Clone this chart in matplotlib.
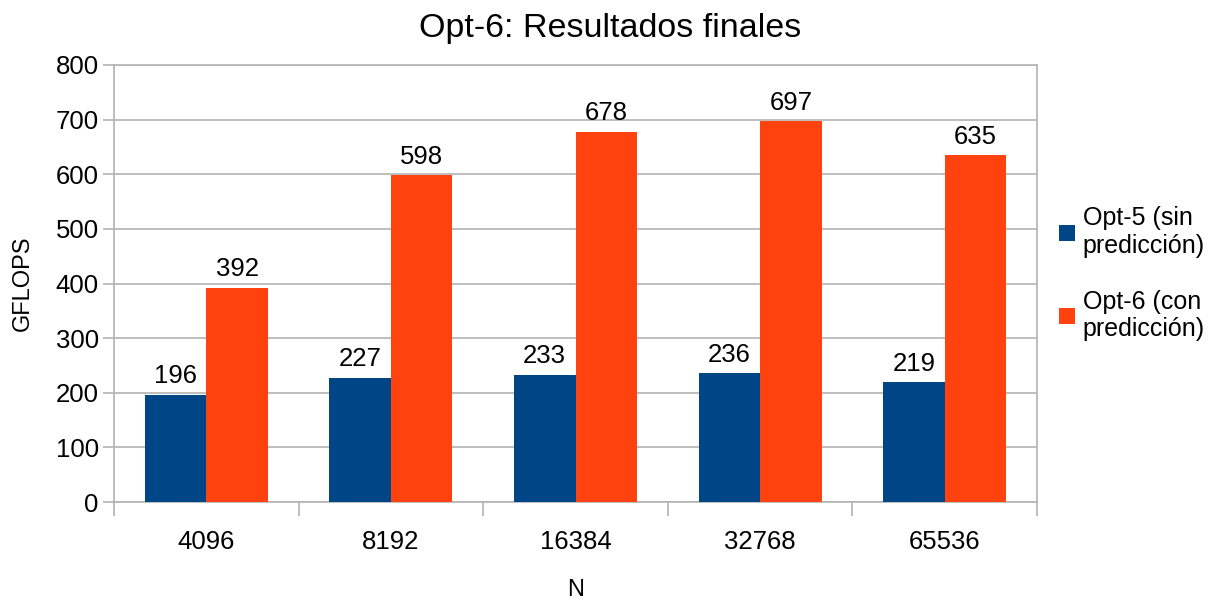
import matplotlib
matplotlib.use("Agg")
import matplotlib.pyplot as plt
import numpy as np

categories = ["4096", "8192", "16384", "32768", "65536"]
opt5 = [196, 227, 233, 236, 219]
opt6 = [392, 598, 678, 697, 635]
series_names = ["Opt-5 (sin\npredicción)", "Opt-6 (con\npredicción)"]
yticks = [0, 100, 200, 300, 400, 500, 600, 700, 800]

plt.rcParams['font.family'] = ['Liberation Sans', 'DejaVu Sans']

fig = plt.figure(figsize=(12.21, 6.02), dpi=100)
ax = fig.add_axes([114/1221, 1 - 502/602, (1037-114)/1221, (502-65)/602])

x = np.arange(len(categories))
w = 1/3
grid_c = "#b3b3b3"
b1 = ax.bar(x - w/2, opt5, w, color="#004586", label=series_names[0], zorder=3)
b2 = ax.bar(x + w/2, opt6, w, color="#ff420e", label=series_names[1], zorder=3)

for bars, vals in ((b1, opt5), (b2, opt6)):
    for r, v in zip(bars, vals):
        ax.text(r.get_x() + r.get_width()/2, v + 12, str(v), ha="center", va="bottom",
                fontsize=18.5, color="black")

ax.set_xlim(-0.5, len(categories) - 0.5)
ax.set_ylim(0, 800)
ax.set_yticks(yticks)
ax.set_yticklabels([str(t) for t in yticks], fontsize=18.5)
ax.yaxis.grid(True, color=grid_c, linewidth=1.2, zorder=0)
ax.tick_params(axis="y", length=8, color=grid_c, width=1.2, pad=3)

ax.set_xticks(x)
ax.set_xticklabels(categories, fontsize=18.5)
ax.tick_params(axis="x", length=0, pad=20)
ax.set_xticks(np.arange(len(categories) + 1) - 0.5, minor=True)
ax.tick_params(axis="x", which="minor", length=10, color=grid_c, width=1.2)

for s in ax.spines.values():
    s.set_color(grid_c)
    s.set_linewidth(1.2)

ax.set_xlabel("N", fontsize=17, labelpad=18)
ax.set_ylabel("GFLOPS", fontsize=17, labelpad=16)
fig.suptitle("Opt-6: Resultados finales", fontsize=24.5, y=0.978)

leg = fig.legend(handles=[b1, b2], labels=series_names, loc="center left",
                 bbox_to_anchor=(1051/1221, 0.545), frameon=False, fontsize=18,
                 borderpad=0.3, borderaxespad=0.0,
                 handlelength=0.64, handleheight=0.64, handletextpad=0.33,
                 labelspacing=1.25)

fig.savefig("out.png", dpi=100)
